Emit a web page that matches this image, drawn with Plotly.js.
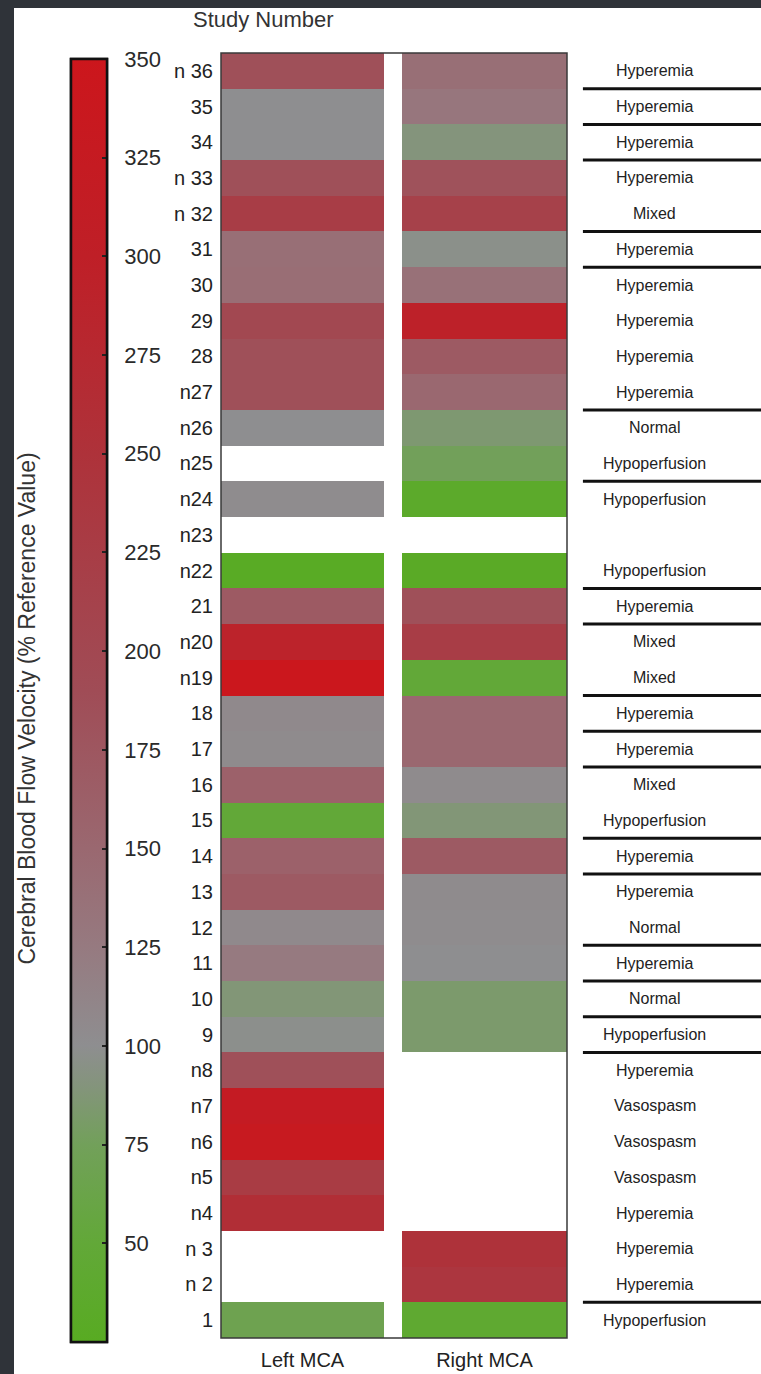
<!DOCTYPE html>
<html>
<head>
<meta charset="utf-8">
<script src="https://cdn.plot.ly/plotly-3.0.1.min.js"></script>
<style>
  html, body { margin: 0; padding: 0; background: #2f3339; width: 761px; height: 1374px; overflow: hidden; }
  #chart { position: absolute; left: 14px; top: 8px; width: 747px; height: 1366px; background: #ffffff; }
</style>
</head>
<body>
<div id="chart"></div>
<script>
// ---------- data (index 0 = study 1, ..., index 35 = study 36) ----------
const studyNumbers = [1,2,3,4,5,6,7,8,9,10,11,12,13,14,15,16,17,18,19,20,21,22,23,24,25,26,27,28,29,30,31,32,33,34,35,36];
const studyLabels = ["1","n 2","n 3","n4","n5","n6","n7","n8","9","10","11","12","13","14","15","16","17","18","n19","n20","21","n22","n23","n24","n25","n26","n27","28","29","30","31","n 32","n 33","34","35","n 36"];
const leftMCA  = [68,null,null,260,228,330,320,185,98,88,125,106,170,160,50,160,104,106,345,290,170,28,null,103,null,100,185,185,200,142,140,225,185,100,100,185];
const rightMCA = [42,240,250,null,null,null,null,null,83,83,100,103,104,170,88,104,150,150,50,225,185,30,null,35,75,85,150,170,295,138,97,215,182,90,130,140];
const classification = ["Hypoperfusion","Hyperemia","Hyperemia","Hyperemia","Vasospasm","Vasospasm","Vasospasm","Hyperemia","Hypoperfusion","Normal","Hyperemia","Normal","Hyperemia","Hyperemia","Hypoperfusion","Mixed","Hyperemia","Hyperemia","Mixed","Mixed","Hyperemia","Hypoperfusion","","Hypoperfusion","Hypoperfusion","Normal","Hyperemia","Hyperemia","Hyperemia","Hyperemia","Hyperemia","Mixed","Hyperemia","Hyperemia","Hyperemia","Hyperemia"];
// study numbers directly above a separator line in the classification column
const separatorAbove = [36,35,34,32,31,27,25,22,21,19,18,17,15,14,12,11,10,9,2];
const colorTicks = [50,75,100,125,150,175,200,225,250,275,300,325,350];
const columnNames = ["Left MCA","Right MCA"];

// ---------- styling ----------
const FONT = "Liberation Sans, Arial, Helvetica, sans-serif";
const zMin = 25, zMax = 350;
const stops = [[25,"#58ab22"],[50,"#62a838"],[75,"#72a05a"],[90,"#84947c"],[100,"#8e8e90"],[125,"#967a80"],[150,"#9a6870"],[190,"#a04c56"],[250,"#ae323a"],[300,"#bf1f27"],[350,"#cc161c"]];
const colorscale = stops.map(s => [(s[0]-zMin)/(zMax-zMin), s[1]]);

// colour bar geometry
const PLOT_H = 1366 - 45 - 36;
const CB_X = -0.4335, CB_Y = 0.4961, CB_LEN = 1283, CB_THICK = 36;
const cbBase = {
  x: CB_X, xanchor: "left", xpad: 0,
  y: CB_Y, yanchor: "middle", ypad: 0,
  len: CB_LEN, lenmode: "pixels",
  thickness: CB_THICK, thicknessmode: "pixels",
  outlinewidth: 2.5, outlinecolor: "#111",
  tickmode: "array", tickvals: colorTicks, ticktext: colorTicks.map(String)
};

const common = {
  type: "heatmap",
  y: studyNumbers,
  zmin: zMin, zmax: zMax,
  colorscale: colorscale,
  hoverongaps: false
};

const traceL = Object.assign({}, common, {
  x: [columnNames[0]],
  z: leftMCA.map(v => [v]),
  xaxis: "x", yaxis: "y",
  showscale: true,
  colorbar: Object.assign({}, cbBase, {
    ticks: "outside", ticklen: 12, tickwidth: 1, tickcolor: "rgba(0,0,0,0)",
    tickfont: {family: FONT, size: 22, color: "#2a2a2a"}
  })
});
const traceR = Object.assign({}, common, {
  x: [columnNames[1]],
  z: rightMCA.map(v => [v]),
  xaxis: "x2", yaxis: "y",
  showscale: true,
  colorbar: Object.assign({}, cbBase, {
    ticks: "inside", ticklen: 6, tickwidth: 2, tickcolor: "#222",
    showticklabels: false
  })
});

const annotations = [];
classification.forEach((c, i) => {
  if (!c) return;
  annotations.push({
    xref: "paper", yref: "y", x: 1.2543, y: studyNumbers[i],
    text: c, showarrow: false, xanchor: "center", yanchor: "middle",
    font: {family: FONT, size: 16, color: "#222"}
  });
});
annotations.push({
  xref: "paper", yref: "paper", x: 0.124, y: 1.0257, text: "Study Number",
  showarrow: false, xanchor: "center", yanchor: "middle",
  font: {family: FONT, size: 22, color: "#333"}
});
annotations.push({
  xref: "paper", yref: "paper", x: -0.56, y: 0.49,
  text: "Cerebral Blood Flow Velocity (% Reference Value)",
  textangle: -90, showarrow: false, xanchor: "center", yanchor: "middle",
  font: {family: FONT, size: 23, color: "#333"}
});

const shapes = [{
  type: "rect", xref: "paper", yref: "paper", x0: 0, x1: 1, y0: 0, y1: 1,
  line: {color: "#3a3a3a", width: 1.5}, fillcolor: "rgba(0,0,0,0)", layer: "above"
}];
separatorAbove.forEach(k => {
  shapes.push({
    type: "line", xref: "paper", yref: "y", x0: 1.046, x1: 1.5607, y0: k - 0.5, y1: k - 0.5,
    line: {color: "#111", width: 3}
  });
});
// tick marks on the left inner edge of the colour bar (mirroring the right-edge ticks)
const cbBottom = CB_Y - (CB_LEN / 2) / PLOT_H;
const cbSpan = CB_LEN / PLOT_H;
const cbLeftPaper = CB_X + 1.5 / 346;
colorTicks.forEach(v => {
  const yp = cbBottom + (v - zMin) / (zMax - zMin) * cbSpan;
  shapes.push({
    type: "line", xref: "paper", yref: "paper",
    x0: cbLeftPaper, x1: cbLeftPaper + 6 / 346, y0: yp, y1: yp,
    line: {color: "#222", width: 2}, layer: "above"
  });
});

const layout = {
  width: 747, height: 1366,
  margin: {l: 207, r: 194, t: 45, b: 36, pad: 0},
  paper_bgcolor: "#ffffff", plot_bgcolor: "#ffffff",
  showlegend: false,
  font: {family: FONT, color: "#222"},
  xaxis: {domain: [0, 0.4711], showgrid: false, zeroline: false, showline: false, ticks: "",
          tickfont: {family: FONT, size: 20, color: "#222"}, ticklabelstandoff: 8, fixedrange: true},
  xaxis2: {domain: [0.5231, 1], anchor: "y", showgrid: false, zeroline: false, showline: false, ticks: "",
          tickfont: {family: FONT, size: 20, color: "#222"}, ticklabelstandoff: 8, fixedrange: true},
  yaxis: {range: [0.5, 36.5], tickmode: "array", tickvals: studyNumbers, ticktext: studyLabels,
          showgrid: false, zeroline: false, showline: false, ticks: "",
          tickfont: {family: FONT, size: 20, color: "#222"}, ticklabelstandoff: 7, fixedrange: true},
  annotations: annotations,
  shapes: shapes
};

Plotly.newPlot("chart", [traceL, traceR], layout, {displayModeBar: false, staticPlot: true});
</script>
</body>
</html>
